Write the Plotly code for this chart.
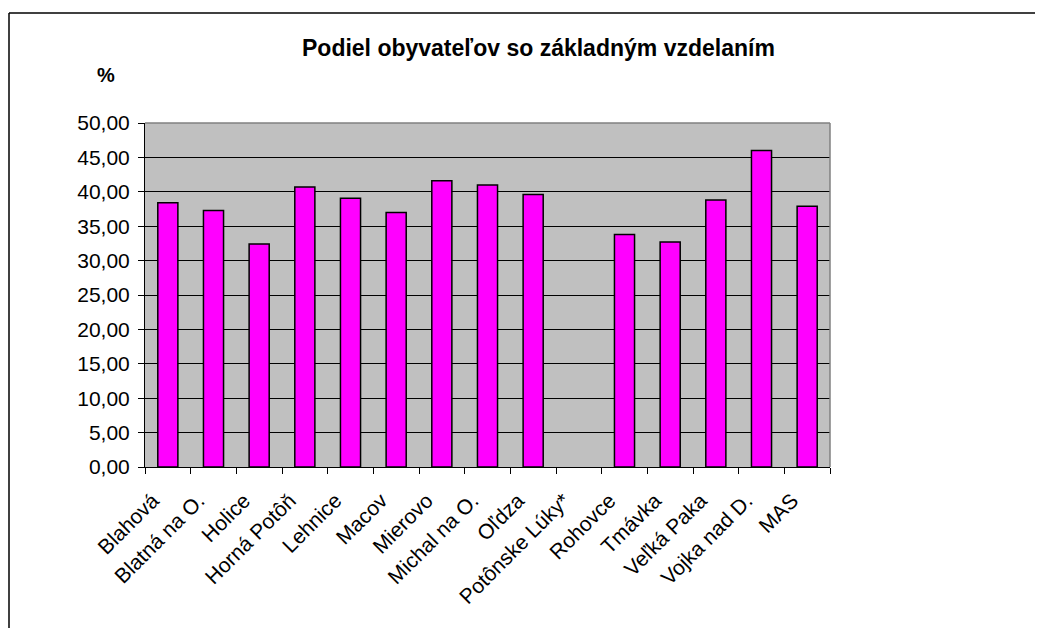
import plotly.graph_objects as go

categories = ["Blahová", "Blatná na O.", "Holice", "Horná Potôň", "Lehnice", "Macov",
              "Mierovo", "Michal na O.", "Oľdza", "Potônske Lúky*", "Rohovce", "Tmávka",
              "Veľká Paka", "Vojka nad D.", "MAS"]
values = [38.4, 37.3, 32.4, 40.7, 39.05, 37.0, 41.6, 41.0, 39.6, None, 33.8, 32.7, 38.8, 46.0, 37.9]
y_ticks = [0, 5, 10, 15, 20, 25, 30, 35, 40, 45, 50]
y_tick_labels = [("%.2f" % v).replace(".", ",") for v in y_ticks]

OFF = 8  # page body margin
W, H = 1043 - OFF, 628 - OFF
# plot area in page pixels
L, R, T, B = 145, 830, 123, 467
l, r, t, b = L - OFF, W - (R - OFF), T - OFF, H - (B - OFF)

fig = go.Figure(go.Bar(
    x=categories, y=values,
    marker=dict(color="#FF00FF", line=dict(color="#000000", width=1.5)),
    width=0.44,
))

font = "Liberation Sans, Arial, sans-serif"

def px(x):
    return (x - L) / (R - L)

def py(y):
    return (B - y) / (B - T)

fig.update_layout(
    width=W, height=H,
    margin=dict(l=l, r=r, t=t, b=b, pad=0),
    paper_bgcolor="white", plot_bgcolor="#C0C0C0",
    showlegend=False,
    font=dict(family=font, size=20, color="black"),
    xaxis=dict(
        type="category", tickangle=-45, tickson="boundaries",
        ticks="outside", ticklen=6, tickcolor="black",
        showline=True, linecolor="black", linewidth=1,
        showgrid=False, tickfont=dict(size=21),
        ticklabelstandoff=12, ticklabelshift=-15,
        range=[-0.5, 14.5],
    ),
    yaxis=dict(
        range=[0, 50], tickvals=y_ticks, ticktext=y_tick_labels,
        ticks="outside", ticklen=6, tickcolor="black",
        showline=True, linecolor="black", linewidth=1,
        showgrid=True, gridcolor="black", gridwidth=1,
        zeroline=False, tickfont=dict(size=21),
        ticklabelstandoff=4,
    ),
    annotations=[
        dict(text="<b>Podiel obyvateľov so základným vzdelaním</b>", x=px(538), y=py(48),
             xref="paper", yref="paper", showarrow=False, xanchor="center", yanchor="middle",
             font=dict(size=23, family=font)),
        dict(text="<b>%</b>", x=px(106), y=py(75), xref="paper", yref="paper",
             showarrow=False, xanchor="center", yanchor="middle",
             font=dict(size=20, family=font)),
    ],
    shapes=[
        dict(type="line", xref="paper", yref="paper", x0=0, x1=1, y0=1, y1=1,
             line=dict(color="#808080", width=1.5)),
        dict(type="line", xref="paper", yref="paper", x0=1, x1=1, y0=0, y1=1,
             line=dict(color="#808080", width=1.5)),
        dict(type="line", xref="paper", yref="paper", x0=px(9), x1=px(1043), y0=py(13), y1=py(13),
             line=dict(color="black", width=1.5)),
        dict(type="line", xref="paper", yref="paper", x0=px(9), x1=px(9), y0=py(13), y1=py(628),
             line=dict(color="black", width=1.5)),
    ],
)

fig.write_html("out.html")
